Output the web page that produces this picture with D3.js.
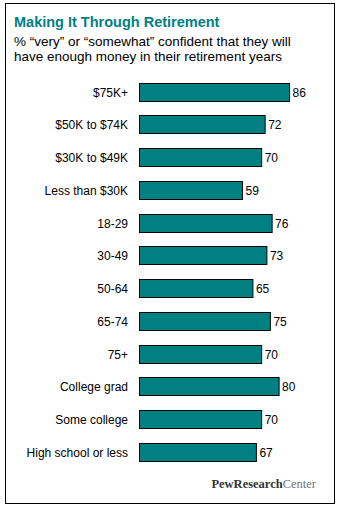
<!DOCTYPE html>
<html><head><meta charset="utf-8">
<script src="https://cdn.jsdelivr.net/npm/d3@7"></script>
<style>body{margin:0;background:#fff}</style>
</head><body>
<svg id="c" width="339" height="507"></svg>
<script>
const categories = ["$75K+","$50K to $74K","$30K to $49K","Less than $30K","18-29","30-49","50-64","65-74","75+","College grad","Some college","High school or less"];
const values = [86,72,70,59,76,73,65,75,70,80,70,67];

const svg = d3.select("#c");
svg.append("rect").attr("x",5.5).attr("y",3.5).attr("width",329).attr("height",500)
  .attr("fill","#fff").attr("stroke","#000").attr("stroke-width",1);

svg.append("text").attr("x",14).attr("y",27).text("Making It Through Retirement")
  .attr("font-family","Liberation Sans, Arial, sans-serif").attr("font-weight","bold")
  .attr("font-size",14.5).attr("fill","#00807f");
const sub = ["% \u201cvery\u201d or \u201csomewhat\u201d confident that they will","have enough money in their retirement years"];
svg.selectAll("text.sub").data(sub).enter().append("text").attr("class","sub")
  .attr("x",14).attr("y",(d,i)=>46+i*15).text(d=>d)
  .attr("font-family","Liberation Sans, Arial, sans-serif").attr("font-size",13.5).attr("fill","#000");

const x = d3.scaleLinear().domain([0,100]).range([139.5,314]);
const y = d3.scaleBand().domain(categories).range([75.5,468]).paddingInner(0.45).paddingOuter(0.22);

const g = svg.append("g");
g.selectAll("rect.bar").data(values).enter().append("rect").attr("class","bar")
  .attr("x",x(0)).attr("y",(d,i)=>Math.round(y(categories[i]))+0.5)
  .attr("width",d=>x(d)-x(0)).attr("height",18)
  .attr("fill","#008080").attr("stroke","#000").attr("stroke-width",1);

g.selectAll("text.cat").data(categories).enter().append("text").attr("class","cat")
  .attr("x",128).attr("y",d=>Math.round(y(d))+9.5).attr("dy","0.35em").attr("text-anchor","end")
  .text(d=>d).attr("font-family","Liberation Sans, Arial, sans-serif").attr("font-size",12).attr("fill","#000");

g.selectAll("text.val").data(values).enter().append("text").attr("class","val")
  .attr("x",d=>x(d)+3).attr("y",(d,i)=>Math.round(y(categories[i]))+9.5).attr("dy","0.35em")
  .text(d=>d).attr("font-family","Liberation Sans, Arial, sans-serif").attr("font-size",12).attr("fill","#000");

const logo = svg.append("text").attr("x",316).attr("y",488).attr("text-anchor","end")
  .attr("font-family","Liberation Serif, Times New Roman, serif").attr("font-size",12.5);
logo.append("tspan").text("PewResearch").attr("fill","#333").attr("font-weight","bold");
logo.append("tspan").text("Center").attr("fill","#777");
</script>
</body></html>
